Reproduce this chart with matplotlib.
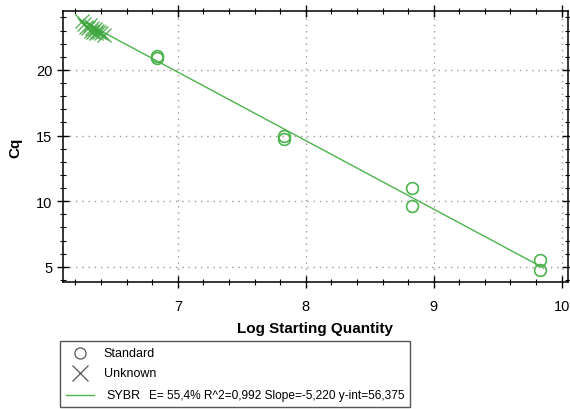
import matplotlib
matplotlib.use("Agg")
import matplotlib.pyplot as plt
from matplotlib.lines import Line2D
from matplotlib.patches import Rectangle
from matplotlib.ticker import MultipleLocator
from matplotlib import font_manager

names = {f.name for f in font_manager.fontManager.ttflist}
fam = ['Liberation Sans Narrow', 'Liberation Sans', 'DejaVu Sans'] if 'Liberation Sans Narrow' in names else ['Liberation Sans', 'DejaVu Sans']
plt.rcParams['font.family'] = fam

# Data
std_x = [6.84, 6.84, 7.83, 7.83, 8.83, 8.83, 9.83, 9.83]
std_y = [20.9, 21.05, 14.75, 14.95, 11.0, 9.65, 5.5, 4.75]
unk_x = [6.25, 6.27, 6.28, 6.30, 6.31, 6.32, 6.33, 6.34, 6.35, 6.36, 6.37, 6.38, 6.40, 6.42]
unk_y = [23.7, 23.5, 23.3, 23.2, 23.4, 23.0, 23.2, 22.9, 23.1, 22.8, 23.0, 22.9, 22.8, 22.7]
slope = -5.220
intercept = 56.375
fit_range = [6.23, 9.86]
legend_labels = ['Standard', 'Unknown', 'SYBR', 'E= 55,4% R^2=0,992 Slope=-5,220 y-int=56,375']

green = '#4db34d'

fig = plt.figure(figsize=(5.7, 4.1), dpi=100)
ax = fig.add_axes([0.11, 0.31, 0.8865, 0.661])

fy = [slope * x + intercept for x in fit_range]
ax.plot(fit_range, fy, color=green, lw=1.0, zorder=3)
ax.plot(std_x, std_y, linestyle='none', marker='o', markersize=8.5, fillstyle='none',
        markeredgecolor=green, markeredgewidth=1.2, zorder=4)
ax.plot(unk_x, unk_y, linestyle='none', marker='x', markersize=10, markeredgecolor='#3fa63f',
        markeredgewidth=1.0, alpha=0.85, zorder=4)

ax.set_xlim(6.10, 10.05)
ax.set_ylim(3.85, 24.5)
ax.xaxis.set_major_locator(MultipleLocator(1))
ax.xaxis.set_minor_locator(MultipleLocator(0.2))
ax.yaxis.set_major_locator(MultipleLocator(5))
ax.yaxis.set_minor_locator(MultipleLocator(1))
ax.tick_params(which='both', direction='inout', top=True, right=True, colors='black',
               labelsize=10.5)
ax.tick_params(which='major', length=8, width=1)
ax.tick_params(which='minor', length=5, width=0.8)
ax.tick_params(axis='x', pad=8)
ax.grid(True, which='major', linestyle=(0, (1, 3.5)), color='#999999', lw=1.0)
for s in ax.spines.values():
    s.set_linewidth(1.1)
ax.set_xlabel('Log Starting Quantity', fontsize=11, fontweight='bold', labelpad=6)
ax.set_ylabel('Cq', fontsize=11, fontweight='bold', labelpad=10)

# Legend box
fig.patches.append(Rectangle((0.105, 0.005), 0.615, 0.161, transform=fig.transFigure,
                             fill=False, edgecolor='#555555', lw=1.0))
ys = [0.137, 0.087, 0.035]
fig.lines.append(Line2D([0.141], [ys[0]], marker='o', markersize=8, fillstyle='none',
                        markeredgecolor='#555555', markeredgewidth=0.9, transform=fig.transFigure))
fig.lines.append(Line2D([0.141], [ys[1]], marker='x', markersize=11, markeredgecolor='#555555',
                        markeredgewidth=0.9, transform=fig.transFigure))
fig.lines.append(Line2D([0.115, 0.165], [ys[2], ys[2]], color=green, lw=1.0,
                        transform=fig.transFigure))
fig.text(0.182, ys[0], legend_labels[0], fontsize=9, va='center')
fig.text(0.182, ys[1], legend_labels[1], fontsize=9, va='center')
fig.text(0.187, ys[2], legend_labels[2], fontsize=9, va='center')
fig.text(0.262, ys[2], legend_labels[3], fontsize=8.6, va='center')

fig.savefig('out.png', dpi=100)
